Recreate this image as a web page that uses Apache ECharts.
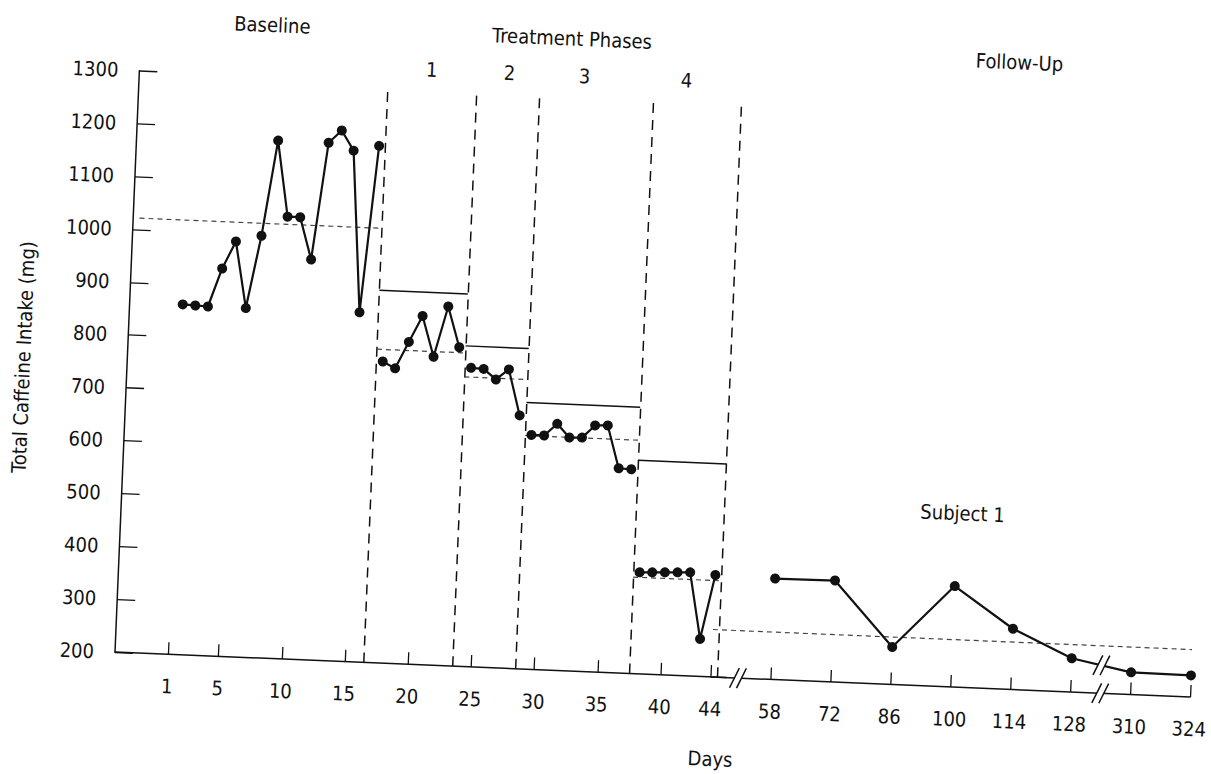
<!DOCTYPE html>
<html>
<head>
<meta charset="utf-8">
<script src="https://cdn.jsdelivr.net/npm/echarts@6/dist/echarts.min.js"></script>
<style>
html,body{margin:0;padding:0;background:#fff;overflow:hidden;}
#chart{width:1211px;height:774px;transform:rotate(2.4deg);transform-origin:115px 652px;}
</style>
</head>
<body>
<div id="chart"></div>
<script>
// ---- data ----
const dayTickLabels = [1, 5, 10, 15, 20, 25, 30, 35, 40, 44];
const baselineDays = [1, 2, 3, 4, 5, 6, 7, 8, 9, 10, 11, 12, 13, 14, 15, 16];
const baselineValues = [862, 861, 860, 933, 985, 860, 998, 1179, 1036, 1036, 957, 1179, 1203, 1166, 861, 1177];
const phase1Days = [17, 18, 19, 20, 21, 22, 23];
const phase1Values = [770, 758, 809, 859, 783, 879, 803];
const phase2Days = [24, 25, 26, 27, 28];
const phase2Values = [765, 764, 745, 765, 679];
const phase3Days = [29, 30, 31, 32, 33, 34, 35, 36, 37];
const phase3Values = [643, 643, 666, 641, 642, 666, 667, 587, 586];
const phase4Days = [38, 39, 40, 41, 42, 43, 44];
const phase4Values = [392, 393, 394, 395, 396, 271, 393];
const followUpDays = ['58', '72', '86', '100', '114', '128', '310', '324'];
const followUpValues = [391, 392, 271, 391, 315, 264, 242, 241];
const phaseBoundaries = [16.5, 23.5, 28.5, 37.5, 44.5];
const phaseMeans = [1022, 793, 747, 642, 382];   // dashed mean lines: baseline, phases 1-4
const followUpMean = 290;
const criterionLevels = [905, 806, 705, 605];   // solid lines, phases 1-4
const phaseNames = ['1', '2', '3', '4'];

// ---- chart ----
const FONT = "'DejaVu Sans Condensed','Liberation Sans Narrow',sans-serif";
const INK = '#111';
const chart = echarts.init(document.getElementById('chart'), null, {renderer: 'svg', width: 1211, height: 774});

const markData = [];
const xStarts = [-2.7].concat(phaseBoundaries.slice(0, 4));
const xEnds = phaseBoundaries;
phaseBoundaries.forEach(b => {
  markData.push([{coord: [b, 200], lineStyle: {type: [10, 7], width: 1.5, color: INK}}, {coord: [b, 1287]}]);
});
phaseMeans.forEach((m, i) => {
  markData.push([{coord: [xStarts[i], m], lineStyle: {type: [5, 4], width: 1.2, color: '#444'}}, {coord: [xEnds[i], m]}]);
});
criterionLevels.forEach((c, i) => {
  markData.push([{coord: [phaseBoundaries[i], c], lineStyle: {type: 'solid', width: 1.4, color: INK}}, {coord: [phaseBoundaries[i + 1], c]}]);
});

function phaseSeries(days, vals) {
  return {
    type: 'line', xAxisIndex: 0, yAxisIndex: 0,
    data: days.map((d, i) => [d, vals[i]]),
    symbol: 'circle', symbolSize: 10,
    itemStyle: {color: INK},
    lineStyle: {color: INK, width: 2.2},
    z: 5
  };
}

const series = [
  Object.assign(phaseSeries(baselineDays, baselineValues), {
    markLine: {silent: true, symbol: ['none', 'none'], label: {show: false}, animation: false, data: markData}
  }),
  phaseSeries(phase1Days, phase1Values),
  phaseSeries(phase2Days, phase2Values),
  phaseSeries(phase3Days, phase3Values),
  phaseSeries(phase4Days, phase4Values),
  {
    type: 'line', xAxisIndex: 1, yAxisIndex: 1,
    data: followUpDays.map((d, i) => [d, followUpValues[i]]),
    symbol: 'circle', symbolSize: 10,
    itemStyle: {color: INK},
    lineStyle: {color: INK, width: 2.2},
    z: 5,
    markLine: {
      silent: true, symbol: ['none', 'none'], label: {show: false}, animation: false,
      data: [[{coord: [0, followUpMean], lineStyle: {type: [5, 4], width: 1.2, color: '#444'}}, {coord: [8, followUpMean]}]]
    }
  }
];

const axisLine = {show: true, onZero: false, lineStyle: {color: INK, width: 1.5}};
const labelStyle = {color: INK, fontSize: 20, fontFamily: FONT};

const option = {
  animation: false,
  backgroundColor: 'transparent',
  grid: [
    {left: 115, top: 70.2, width: 611.8, bottom: 122, outerBoundsMode: 'none', containLabel: false},
    {left: 711.5, top: 70.2, width: 479.5, bottom: 122, outerBoundsMode: 'none', containLabel: false}
  ],
  xAxis: [
    {
      gridIndex: 0, type: 'value', min: -3.2, max: 45.2,
      axisLine: axisLine,
      axisTick: {show: true, inside: true, length: 12, customValues: dayTickLabels, lineStyle: {color: INK, width: 1.3}},
      axisLabel: Object.assign({customValues: dayTickLabels, margin: 22, formatter: v => String(v)}, labelStyle),
      splitLine: {show: false}
    },
    {
      gridIndex: 1, type: 'category', data: [''].concat(followUpDays), boundaryGap: false,
      axisLine: axisLine,
      axisTick: {show: true, inside: true, length: 12, interval: (i) => i !== 0, lineStyle: {color: INK, width: 1.3}},
      axisLabel: Object.assign({interval: 0, margin: 22}, labelStyle),
      splitLine: {show: false}
    }
  ],
  yAxis: [
    {
      gridIndex: 0, type: 'value', min: 200, max: 1300, interval: 100,
      axisLine: axisLine,
      axisTick: {show: true, inside: true, length: 18, lineStyle: {color: INK, width: 1.3}},
      axisLabel: Object.assign({margin: 21, formatter: v => String(v)}, labelStyle),
      splitLine: {show: false},
      name: 'Total Caffeine Intake (mg)', nameLocation: 'middle', nameGap: 94, nameRotate: 90,
      nameTextStyle: {color: INK, fontSize: 20, fontFamily: FONT}
    },
    {gridIndex: 1, type: 'value', min: 200, max: 1300, interval: 100, show: false}
  ],
  series: series
};
chart.setOption(option);

function txt(text, x, y, size) {
  return {type: 'text', silent: true, z: 20, style: {text: text, x: x, y: y, fill: INK, font: size + 'px ' + FONT, align: 'center', verticalAlign: 'middle'}};
}
const phaseLabelX = [407, 485, 560, 662];
const graphics = [
  txt('Baseline', 246, 19, 20),
  txt('Treatment Phases', 546, 20, 20),
  txt('Follow-Up', 994, 25, 20),
  txt('Subject 1', 956, 478, 20),
  txt('Days', 714, 734, 20)
];
phaseNames.forEach((n, i) => graphics.push(txt(n, phaseLabelX[i], 57, 20)));

function px(idx, val) { return chart.convertToPixel({xAxisIndex: 1, yAxisIndex: 1}, [idx, val]); }
function lerp(a, b, t) { return [a[0] + (b[0] - a[0]) * t, a[1] + (b[1] - a[1]) * t]; }
function breakMark(c) {
  const cx = c[0], cy = c[1];
  const els = [{type: 'rect', silent: true, z: 30, shape: {x: cx - 3.5, y: cy - 3.5, width: 7, height: 7}, style: {fill: '#fff'}}];
  [-3.5, 3.5].forEach(d => {
    els.push({type: 'line', silent: true, z: 31, shape: {x1: cx + d - 4.5, y1: cy + 10, x2: cx + d + 4.5, y2: cy - 10}, style: {stroke: INK, lineWidth: 1.5}});
  });
  return els;
}
const axisBreak1 = lerp(px(0, 200), px(1, 200), 0.45);
const axisBreak2 = lerp(px(6, 200), px(7, 200), 0.5);
const dataBreak = lerp(px(6, followUpValues[5]), px(7, followUpValues[6]), 0.5);
[axisBreak1, axisBreak2, dataBreak].forEach(c => breakMark(c).forEach(e => graphics.push(e)));

chart.setOption({graphic: graphics});
</script>
</body>
</html>
